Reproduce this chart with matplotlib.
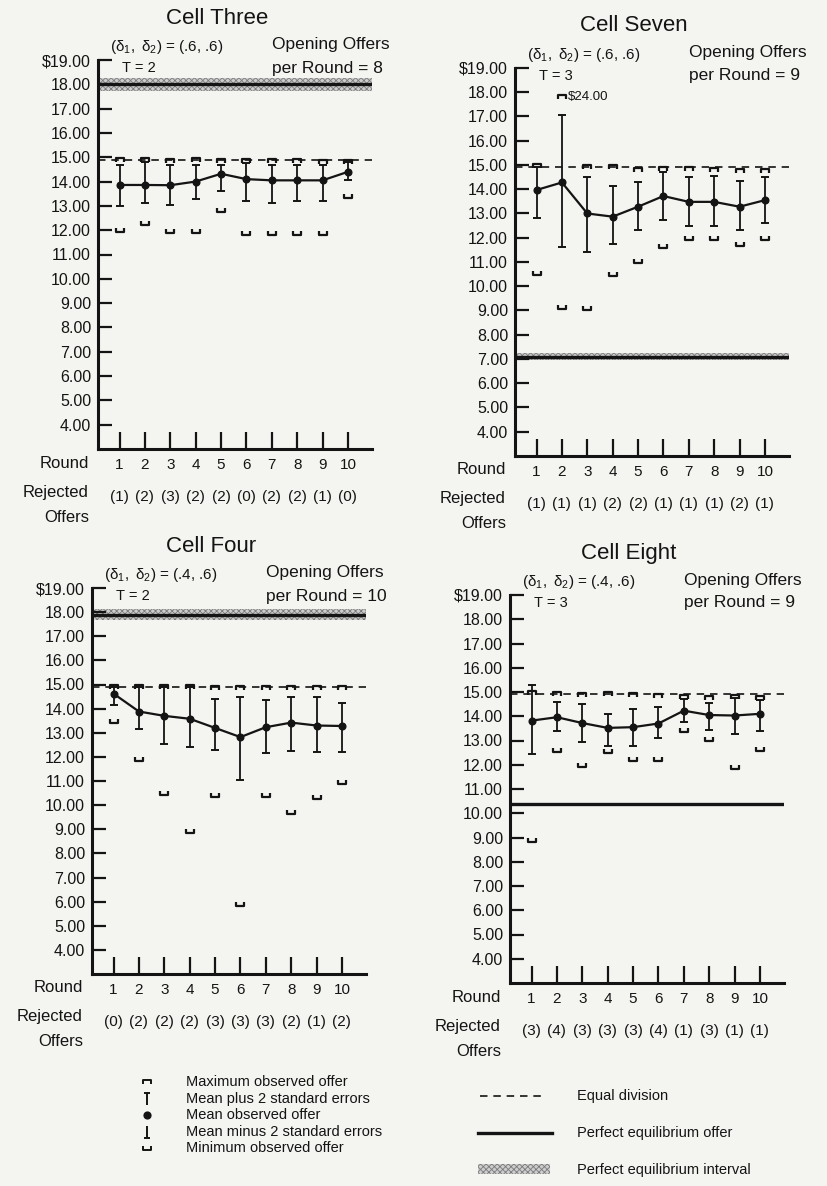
import matplotlib
matplotlib.use('Agg')
import matplotlib.pyplot as plt
from matplotlib.path import Path
import numpy as np

plt.rcParams['font.family'] = ['Liberation Sans', 'DejaVu Sans']
plt.rcParams['mathtext.fontset'] = 'custom'
plt.rcParams['mathtext.rm'] = 'Liberation Sans'
plt.rcParams['mathtext.it'] = 'Liberation Sans:italic'
plt.rcParams['hatch.linewidth'] = 0.6

INK = '#141414'
PAPER = '#f4f4f0'

rounds = np.arange(1, 11)
y_ticks = np.arange(4, 20)
equal_division = 14.9

# Cell Three: (d1, d2) = (.6, .6), T = 2
c3_mean = [13.86, 13.86, 13.85, 14.00, 14.32, 14.10, 14.05, 14.05, 14.05, 14.40]
c3_hi = [14.70, 14.80, 14.70, 14.70, 14.70, 14.75, 14.70, 14.70, 14.70, 14.80]
c3_lo = [13.00, 13.10, 13.05, 13.30, 13.60, 13.20, 13.10, 13.20, 13.20, 14.05]
c3_max = [14.90, 14.90, 14.85, 14.90, 14.85, 14.85, 14.85, 14.85, 14.80, 14.80]
c3_min = [12.00, 12.30, 11.95, 11.95, 12.85, 11.90, 11.90, 11.90, 11.90, 13.40]
c3_rej = [1, 2, 3, 2, 2, 0, 2, 2, 1, 0]

# Cell Seven: (.6, .6), T = 3
c7_mean = [13.97, 14.28, 13.00, 12.87, 13.28, 13.72, 13.48, 13.48, 13.28, 13.55]
c7_hi = [14.90, 17.05, 14.50, 14.15, 14.30, 14.70, 14.50, 14.55, 14.33, 14.50]
c7_lo = [12.80, 11.60, 11.40, 11.75, 12.30, 12.75, 12.50, 12.50, 12.30, 12.60]
c7_max = [14.95, 24.00, 14.90, 14.90, 14.80, 14.85, 14.85, 14.80, 14.75, 14.75]
c7_min = [10.55, 9.13, 9.10, 10.50, 11.05, 11.65, 12.00, 12.00, 11.75, 12.00]
c7_rej = [1, 1, 1, 2, 2, 1, 1, 1, 2, 1]

# Cell Four: (.4, .6), T = 2
c4_mean = [14.62, 13.88, 13.70, 13.58, 13.20, 12.82, 13.23, 13.42, 13.30, 13.28]
c4_hi = [14.90, 14.90, 14.90, 14.90, 14.40, 14.50, 14.35, 14.50, 14.50, 14.25]
c4_lo = [14.15, 13.15, 12.55, 12.40, 12.27, 11.05, 12.15, 12.25, 12.20, 12.20]
c4_max = [14.90, 14.90, 14.90, 14.90, 14.85, 14.85, 14.85, 14.85, 14.85, 14.85]
c4_min = [13.48, 11.92, 10.50, 8.93, 10.40, 5.90, 10.40, 9.70, 10.33, 10.95]
c4_rej = [0, 2, 2, 2, 3, 3, 3, 2, 1, 2]

# Cell Eight: (.4, .6), T = 3
c8_mean = [13.82, 13.96, 13.72, 13.52, 13.55, 13.70, 14.23, 14.05, 14.03, 14.10]
c8_hi = [15.28, 14.60, 14.50, 14.10, 14.28, 14.37, 14.72, 14.55, 14.76, 14.65]
c8_lo = [12.43, 13.38, 12.93, 12.78, 12.78, 13.10, 13.75, 13.45, 13.28, 13.41]
c8_max = [14.95, 14.90, 14.88, 14.90, 14.88, 14.85, 14.80, 14.75, 14.80, 14.75]
c8_min = [8.90, 12.60, 11.97, 12.57, 12.25, 12.25, 13.42, 13.08, 11.90, 12.65]
c8_rej = [3, 4, 3, 3, 3, 4, 1, 3, 1, 1]

W, H = 828, 1186
AX_W = 274  # px, x range 0.15..10.95

# marker shapes
MAX_MK = Path([(-1, -0.6), (-1, 0.6), (1, 0.6), (1, -0.6)])
MIN_MK = Path([(-1, 0.6), (-1, -0.6), (1, -0.6), (1, 0.6)])
UP_MK = Path([(-0.6, 1), (0.6, 1), (0, 1), (0, -1)],
             [Path.MOVETO, Path.LINETO, Path.MOVETO, Path.LINETO])
DN_MK = Path([(-0.6, -1), (0.6, -1), (0, -1), (0, 1)],
             [Path.MOVETO, Path.LINETO, Path.MOVETO, Path.LINETO])

fig = plt.figure(figsize=(W / 100, H / 100), dpi=100, facecolor=PAPER)


def put(ax, dx, dy, s, **kw):
    # text placed in pixels from the top-left corner of the axes
    kw.setdefault('color', INK)
    ax.annotate(s, xy=(0, 1), xycoords='axes fraction', xytext=(dx, -dy),
                textcoords='offset pixels', annotation_clip=False, **kw)


def draw_cell(box, title, deltas, T, opening, mean, hi, lo, mx, mn, rej,
              eq, band=None):
    left, top, bottom = box
    ax = fig.add_axes([left / W, 1 - bottom / H, AX_W / W, (bottom - top) / H])
    ax.set_facecolor('none')
    ax.set_xlim(0.15, 10.95)
    ax.set_ylim(3, 19)
    for s in ['top', 'right']:
        ax.spines[s].set_visible(False)
    for s in ['left', 'bottom']:
        ax.spines[s].set_linewidth(2.2)
        ax.spines[s].set_color(INK)

    ax.set_yticks(y_ticks)
    ax.set_yticklabels([r'\$%.2f' % v if v == 19 else '%.2f' % v for v in y_ticks])
    ax.tick_params(axis='y', direction='in', length=10, width=1.6, pad=5,
                   labelsize=11.5, colors=INK)
    ax.set_xticks(rounds)
    ax.tick_params(axis='x', direction='in', length=12, width=1.6,
                   labelbottom=False, colors=INK)

    mean = np.array(mean)
    hi = np.array(hi)
    lo = np.array(lo)

    if band is not None:
        ax.axhspan(band[0], band[1], facecolor='#cdcdcd', edgecolor='#7a7a7a',
                   hatch='xxxxxx', lw=0, zorder=1)
    ax.axhline(eq, color=INK, lw=2.4, zorder=2)
    ax.axhline(equal_division, color=INK, lw=1.2, ls=(0, (4.5, 3.5)), zorder=2)

    ax.errorbar(rounds, mean, yerr=[mean - lo, hi - mean], fmt='none',
                ecolor=INK, elinewidth=1.3, capsize=3, capthick=1.4, zorder=3)
    ax.plot(rounds, mean, '-o', color=INK, lw=1.6, ms=4.8, zorder=4)

    # off-scale maxima are parked just under the top and labelled
    shown = [v if v <= 19 else 17.8 for v in mx]
    ax.plot(rounds, shown, ls='none', marker=MAX_MK, ms=5.5, mfc='none',
            mec=INK, mew=1.6, zorder=4)
    for r, v in zip(rounds, mx):
        if v > 19:
            ax.annotate(r'\$%.2f' % v, xy=(r, 17.8), xytext=(6, 0),
                        textcoords='offset pixels', va='center', ha='left',
                        fontsize=9.5, color=INK)
    ax.plot(rounds, mn, ls='none', marker=MIN_MK, ms=5.5, mfc='none',
            mec=INK, mew=1.6, zorder=4)

    xt = ax.get_xaxis_transform()
    for r, n in zip(rounds, rej):
        ax.annotate(str(r), xy=(r, 0), xycoords=xt, xytext=(0, -16),
                    textcoords='offset pixels', ha='center', va='center',
                    fontsize=11, color=INK, annotation_clip=False)
        ax.annotate('(%d)' % n, xy=(r, 0), xycoords=xt, xytext=(0, -48),
                    textcoords='offset pixels', ha='center', va='center',
                    fontsize=11, color=INK, annotation_clip=False)
    for txt, dy in [('Round', -14), ('Rejected', -43), ('Offers', -68)]:
        ax.annotate(txt, xy=(0, 0), xycoords='axes fraction', xytext=(-9, dy),
                    textcoords='offset pixels', ha='right', va='center',
                    fontsize=12, color=INK, annotation_clip=False)

    put(ax, 119, -42, title, ha='center', va='center', fontsize=16)
    put(ax, 12, -13, r'$\mathrm{(\delta_1,\ \delta_2)}$ = ' + deltas,
        ha='left', va='center', fontsize=11)
    put(ax, 24, 8, 'T = %d' % T, ha='left', va='center', fontsize=10.5)
    put(ax, 174, -15, 'Opening Offers', ha='left', va='center', fontsize=12.5)
    put(ax, 174, 8, 'per Round = %d' % opening, ha='left', va='center',
        fontsize=12.5)
    return ax


draw_cell((98, 60, 449), 'Cell Three', '(.6, .6)', 2, 8,
          c3_mean, c3_hi, c3_lo, c3_max, c3_min, c3_rej, 18.0, (17.72, 18.25))
draw_cell((515, 68, 456), 'Cell Seven', '(.6, .6)', 3, 9,
          c7_mean, c7_hi, c7_lo, c7_max, c7_min, c7_rej, 7.1, (6.95, 7.25))
draw_cell((92, 588, 974), 'Cell Four', '(.4, .6)', 2, 10,
          c4_mean, c4_hi, c4_lo, c4_max, c4_min, c4_rej, 17.9, (17.67, 18.12))
draw_cell((510, 595, 983), 'Cell Eight', '(.4, .6)', 3, 9,
          c8_mean, c8_hi, c8_lo, c8_max, c8_min, c8_rej, 10.4)

# key, drawn on a pixel grid spanning the figure
leg = fig.add_axes([0, 0, 1, 1], zorder=-1)
leg.set_xlim(0, W)
leg.set_ylim(H, 0)
leg.axis('off')

left_items = [(MAX_MK, 'none', 5.5, 'Maximum observed offer'),
              (UP_MK, 'none', 8, 'Mean plus 2 standard errors'),
              ('o', INK, 4.5, 'Mean observed offer'),
              (DN_MK, 'none', 8, 'Mean minus 2 standard errors'),
              (MIN_MK, 'none', 5.5, 'Minimum observed offer')]
for i, (mk, fc, ms, label) in enumerate(left_items):
    y = 1082 + i * 16.5
    leg.plot([147], [y], marker=mk, ms=ms, mfc=fc, mec=INK, mew=1.4,
             color=INK, ls='none')
    leg.text(186, y, label, ha='left', va='center', fontsize=10.5, color=INK)

leg.plot([480, 545], [1096, 1096], color=INK, lw=1.2, ls=(0, (4.5, 3.5)))
leg.text(577, 1096, 'Equal division', ha='left', va='center',
         fontsize=10.5, color=INK)
leg.plot([478, 552], [1133, 1133], color=INK, lw=2.4)
leg.text(577, 1133, 'Perfect equilibrium offer', ha='left', va='center',
         fontsize=10.5, color=INK)
leg.fill_between([478, 550], 1164, 1174, facecolor='#cdcdcd',
                 edgecolor='#7a7a7a', hatch='xxxxxx', lw=0)
leg.text(577, 1170, 'Perfect equilibrium interval', ha='left', va='center',
         fontsize=10.5, color=INK)

fig.savefig('out.png', dpi=100, facecolor=PAPER)
